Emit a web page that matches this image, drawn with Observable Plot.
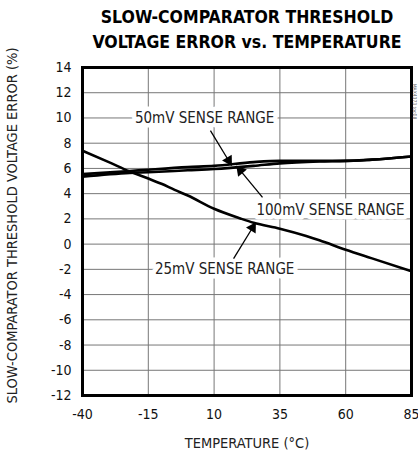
<!DOCTYPE html>
<html>
<head>
<meta charset="utf-8">
<script src="https://cdn.jsdelivr.net/npm/d3@7"></script>
<script src="https://cdn.jsdelivr.net/npm/@observablehq/plot@0.6"></script>
<style>
  html, body { margin: 0; padding: 0; background: #fff; }
  svg, svg text { font-family: "DejaVu Sans", sans-serif; font-stretch: condensed; }
</style>
</head>
<body>
<div id="chart"></div>
<script>
// ---- data ----
const titleLines = ["SLOW-COMPARATOR THRESHOLD", "VOLTAGE ERROR vs. TEMPERATURE"];
const xLabel = "TEMPERATURE (°C)";
const yLabel = "SLOW-COMPARATOR THRESHOLD VOLTAGE ERROR (%)";
const sideNote = "MAX4373 toc08";

const xTicks = [-40, -15, 10, 35, 60, 85];
const yTicks = [-12, -10, -8, -6, -4, -2, 0, 2, 4, 6, 8, 10, 12, 14];

const temps25 = [-40, -30, -22, -15, -10, -5, 0, 10, 20, 25, 35, 45, 50, 60, 70, 85];
const error25 = [7.4, 6.5, 5.75, 5.2, 4.78, 4.3, 3.85, 2.8, 2.03, 1.69, 1.22, 0.64, 0.3, -0.45, -1.13, -2.15];

const tempsOther = [-40, -22, -15, 0, 10, 25, 35, 50, 60, 70, 85];
const error50 = [5.55, 5.8, 5.9, 6.1, 6.2, 6.5, 6.6, 6.6, 6.6, 6.7, 6.95];
const error100 = [5.35, 5.65, 5.7, 5.85, 5.95, 6.2, 6.4, 6.55, 6.6, 6.7, 6.95];

const labelNames = ["50mV SENSE RANGE", "100mV SENSE RANGE", "25mV SENSE RANGE"];
const labelTemp = [6.4, 54.2, 14];
const labelErr = [10, 2.67, -2];
const arrowTailTemp = [8.6, 28.4, 17.4];
const arrowTailErr = [9.0, 3.7, -1.15];
const arrowTipTemp = [15.5, 20, 24.6];
const arrowTipErr = [6.63, 5.83, 1.3];

// ---- build tables ----
const s25 = temps25.map((t, i) => ({t, v: error25[i]}));
const s50 = tempsOther.map((t, i) => ({t, v: error50[i]}));
const s100 = tempsOther.map((t, i) => ({t, v: error100[i]}));
const labels = labelNames.map((name, i) => ({name, t: labelTemp[i], v: labelErr[i]}));
const arrows = labelNames.map((name, i) => ({
  x1: arrowTailTemp[i], y1: arrowTailErr[i], x2: arrowTipTemp[i], y2: arrowTipErr[i]
}));

const W = 418, H = 460;
const mL = 82, mR = 7, mT = 67, mB = 65;
const xDomain = [-40, 85], yDomain = [-12, 14];
// helper scales (same as Plot's) to orient arrowheads
const px = d3.scaleLinear(xDomain, [mL, W - mR]);
const py = d3.scaleLinear(yDomain, [H - mB, mT]);
arrows.forEach(a => {
  const dx = px(a.x2) - px(a.x1), dy = py(a.y2) - py(a.y1);
  a.rot = Math.atan2(dy, dx) * 180 / Math.PI + 90;
});

const font = '"DejaVu Sans", sans-serif';
const fmt = d => String(d);

const chart = Plot.plot({
  width: W, height: H,
  marginLeft: mL, marginRight: mR, marginTop: mT, marginBottom: mB,
  style: {fontFamily: font, fontSize: "14px", color: "#111", background: "#fff", overflow: "visible"},
  x: {domain: xDomain, ticks: xTicks},
  y: {domain: yDomain, ticks: yTicks},
  marks: [
    Plot.gridX(xTicks, {stroke: "#777", strokeOpacity: 1, strokeWidth: 1}),
    Plot.gridY(yTicks, {stroke: "#777", strokeOpacity: 1, strokeWidth: 1}),
    Plot.axisX({ticks: xTicks, tickSize: 0, tickPadding: 14, label: null, fontSize: 14, tickFormat: fmt}),
    Plot.axisY({ticks: yTicks, tickSize: 0, tickPadding: 11, label: null, fontSize: 14, tickFormat: fmt}),
    Plot.line(s25, {x: "t", y: "v", stroke: "#000", strokeWidth: 2.6, curve: "monotone-x"}),
    Plot.line(s50, {x: "t", y: "v", stroke: "#000", strokeWidth: 2.6, curve: "monotone-x"}),
    Plot.line(s100, {x: "t", y: "v", stroke: "#000", strokeWidth: 2.6, curve: "monotone-x"}),
    Plot.text(labels, {x: "t", y: "v", text: "name", fill: "#222", stroke: "#fff", strokeWidth: 9,
      fontSize: 15, textAnchor: "middle", lineAnchor: "middle"}),
    Plot.link(arrows, {x1: "x1", y1: "y1", x2: "x2", y2: "y2", stroke: "#000", strokeWidth: 1.3}),
    Plot.dot(arrows, {x: "x2", y: "y2", symbol: "triangle", r: 4.2, fill: "#000", stroke: "none",
      rotate: "rot"}),
    Plot.frame({stroke: "#000", strokeWidth: 3}),
    Plot.text([titleLines[0]], {frameAnchor: "top", dy: -50, text: d => d, fontSize: 17.5,
      fontWeight: "bold", fill: "#000", lineAnchor: "middle"}),
    Plot.text([titleLines[1]], {frameAnchor: "top", dy: -25, text: d => d, fontSize: 17.5,
      fontWeight: "bold", fill: "#000", lineAnchor: "middle"}),
    Plot.text([xLabel], {frameAnchor: "bottom", dy: 48, text: d => d, fontSize: 14.5,
      fill: "#222", lineAnchor: "middle"}),
    Plot.text([yLabel], {frameAnchor: "left", dx: -70, dy: -6, rotate: -90, text: d => d,
      fontSize: 14.5, fill: "#222", lineAnchor: "middle", textAnchor: "middle"}),
    Plot.text([sideNote], {frameAnchor: "top-right", dx: 3, dy: 34, rotate: 90, text: d => d,
      fontSize: 5, fill: "#666", lineAnchor: "middle", textAnchor: "middle"})
  ]
});
document.getElementById("chart").appendChild(chart);
</script>
</body>
</html>
